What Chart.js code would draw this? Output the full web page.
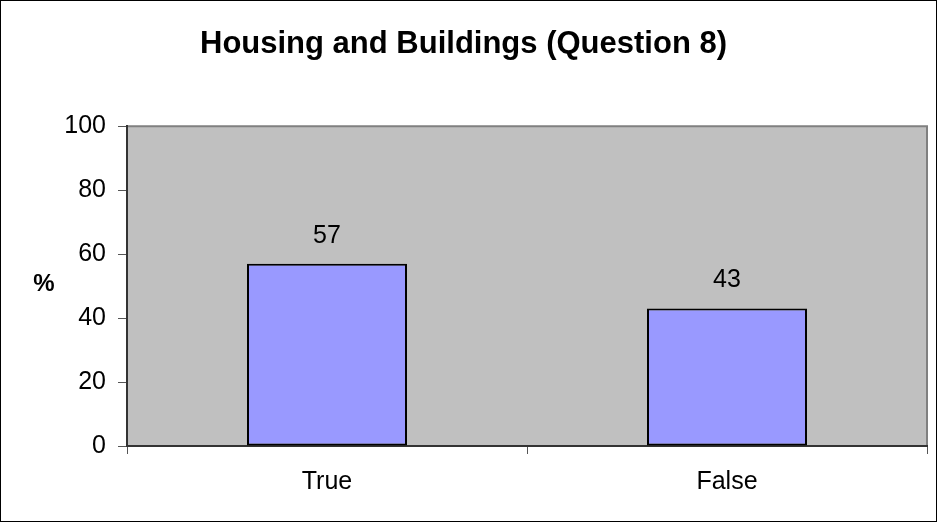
<!DOCTYPE html>
<html lang="en">
<head>
<meta charset="UTF-8">
<title>Housing and Buildings (Question 8)</title>
<script src="https://cdn.jsdelivr.net/npm/chart.js"></script>
<style>
    html, body { margin: 0; padding: 0; background: #fff; }
    #wrap { width: 937px; height: 522px; }
</style>
</head>
<body>
<div id="wrap"><canvas id="myChart" width="937" height="522"></canvas></div>
<script>
    const answers = ['True', 'False'];
    const percent = [57, 43];
    const yTicks = [0, 20, 40, 60, 80, 100];
    const yLabel = '%';

    const FONT = 'Liberation Sans, Arial, sans-serif';

    // grey plot area, outer frame, the "%" label and the numbers above bars
    const decor = {
        id: 'decor',
        beforeDraw(chart) {
            const ctx = chart.ctx;
            const a = chart.chartArea;
            ctx.save();
            ctx.fillStyle = '#fff';
            ctx.fillRect(0, 0, chart.width, chart.height);
            ctx.fillStyle = '#c0c0c0';
            ctx.fillRect(a.left, a.top, a.right - a.left, a.bottom - a.top);
            ctx.strokeStyle = '#808080';
            ctx.lineWidth = 2;
            ctx.beginPath();
            ctx.moveTo(a.left, a.top);
            ctx.lineTo(a.right, a.top);
            ctx.lineTo(a.right, a.bottom);
            ctx.stroke();
            ctx.restore();
        },
        afterDraw(chart) {
            const ctx = chart.ctx;
            const a = chart.chartArea;
            ctx.save();
            ctx.fillStyle = '#000';
            ctx.textAlign = 'center';
            ctx.textBaseline = 'middle';
            ctx.font = '25px ' + FONT;
            chart.getDatasetMeta(0).data.forEach((bar, i) => {
                ctx.fillText(percent[i], bar.x, bar.y - 28);
            });
            // axis name stays horizontal, so it is drawn here
            ctx.font = 'bold 24px ' + FONT;
            ctx.fillText(yLabel, 44, (a.top + a.bottom) / 2 - 2);
            ctx.strokeStyle = '#000';
            ctx.lineWidth = 1;
            ctx.strokeRect(0.5, 0.5, chart.width - 1, chart.height - 1);
            ctx.restore();
        }
    };

    const data = {
        labels: answers,
        datasets: [{
            data: percent,
            backgroundColor: '#9999ff',
            borderColor: '#000',
            borderWidth: 2,
            borderSkipped: false,
            barPercentage: 1,
            categoryPercentage: 0.4
        }]
    };

    const config = {
        type: 'bar',
        data: data,
        plugins: [decor],
        options: {
            responsive: false,
            animation: false,
            layout: { padding: { left: 0, right: 10, top: 0, bottom: 0 } },
            plugins: {
                legend: { display: false },
                tooltip: { enabled: false },
                title: {
                    display: true,
                    text: 'Housing and Buildings (Question 8)',
                    color: '#000',
                    font: { family: FONT, size: 31, weight: 'bold' },
                    padding: { top: 26, bottom: 63 }
                }
            },
            scales: {
                x: {
                    afterFit: s => { s.height = 76; },
                    grid: { display: true, drawOnChartArea: false, drawTicks: true, tickLength: 8, color: '#555', offset: true },
                    border: { display: true, color: '#333', width: 2 },
                    ticks: { color: '#000', padding: 13, font: { family: FONT, size: 25 } }
                },
                y: {
                    min: 0,
                    max: 100,
                    afterFit: s => { s.width = 127; },
                    afterBuildTicks: s => { s.ticks = yTicks.map(v => ({ value: v })); },
                    grid: { display: true, drawOnChartArea: false, drawTicks: true, tickLength: 9, color: '#555' },
                    border: { display: true, color: '#333', width: 2 },
                    ticks: { color: '#000', padding: 12, font: { family: FONT, size: 25 } }
                }
            }
        }
    };

    const myChart = new Chart(document.getElementById('myChart'), config);
</script>
</body>
</html>
